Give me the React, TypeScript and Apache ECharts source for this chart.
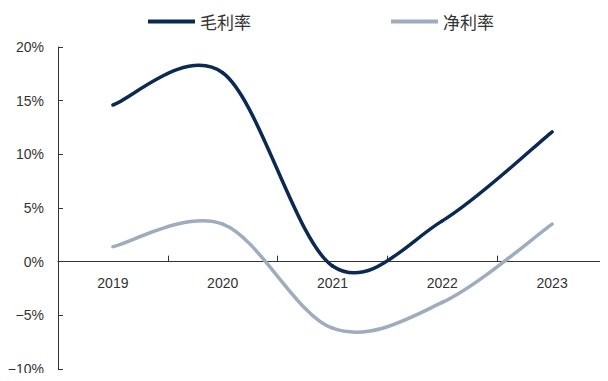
import React, { useEffect, useRef } from "react";
import * as echarts from "echarts";

const categories = ["2019", "2020", "2021", "2022", "2023"];
const grossMargin = [14.6, 17.6, -0.4, 3.8, 12.1];
const netMargin = [1.4, 3.5, -6.2, -3.8, 3.5];
const seriesNames = ["毛利率", "净利率"];
const colors = ["#0b2a52", "#9eacbd"];

function smoothSeries(name: string, values: number[], color: string) {
  const n = values.length;
  return {
    name,
    type: "custom",
    xAxisIndex: 0,
    data: values.map((v, i) => [i, v]),
    encode: { x: 0, y: 1 },
    itemStyle: { color },
    renderItem: (params: any, api: any) => {
      const i = params.dataIndex;
      if (i >= n - 1) return null;
      const p = (j: number) => {
        const k = Math.max(0, Math.min(n - 1, j));
        return api.coord([k, values[k]]);
      };
      const p0 = p(i - 1);
      const p1 = p(i);
      const p2 = p(i + 1);
      const p3 = p(i + 2);
      const t = 1 / 6;
      return {
        type: "bezierCurve",
        shape: {
          x1: p1[0],
          y1: p1[1],
          cpx1: p1[0] + (p2[0] - p0[0]) * t,
          cpy1: p1[1] + (p2[1] - p0[1]) * t,
          cpx2: p2[0] - (p3[0] - p1[0]) * t,
          cpy2: p2[1] - (p3[1] - p1[1]) * t,
          x2: p2[0],
          y2: p2[1],
        },
        style: { stroke: color, lineWidth: 3.5, fill: "none", lineCap: "round" },
      };
    },
  };
}

export default function App() {
  const ref = useRef<HTMLDivElement>(null);
  useEffect(() => {
    if (!ref.current) return;
    const chart = echarts.init(ref.current, null, { renderer: "svg" });
    const yMin = -10;
    const yMax = 20;
    const gridTop = 47;
    const gridBottom = 12;
    const plotH = 381 - gridTop - gridBottom;
    const zeroOffset = (plotH * (0 - yMin)) / (yMax - yMin);
    chart.setOption({
      animation: false,
      backgroundColor: "#ffffff",
      color: colors,
      legend: {
        top: 13,
        left: 148,
        padding: 0,
        itemGap: 140,
        itemWidth: 47,
        itemHeight: 4,
        icon: "rect",
        textStyle: { fontSize: 17, color: "#333", fontFamily: "Noto Sans CJK SC" },
        data: seriesNames,
      },
      grid: { left: 58, right: 1, top: gridTop, bottom: gridBottom, outerBoundsMode: "none", containLabel: false },
      xAxis: [
        {
          type: "category",
          data: categories,
          boundaryGap: true,
          axisLine: { show: true, onZero: true, lineStyle: { color: "#333", width: 1 } },
          axisTick: { show: true, inside: true, length: 6, lineStyle: { color: "#333" } },
          axisLabel: { show: false },
          splitLine: { show: false },
        },
        {
          type: "category",
          data: categories,
          position: "bottom",
          offset: -zeroOffset,
          boundaryGap: true,
          axisLine: { show: false, onZero: false },
          axisTick: { show: false },
          axisLabel: {
            margin: 14,
            fontSize: 14,
            color: "#333",
            fontFamily: "Liberation Sans Narrow, Arial, sans-serif",
          },
          splitLine: { show: false },
        },
      ],
      yAxis: {
        type: "value",
        min: yMin,
        max: yMax,
        interval: 5,
        axisLine: { show: true, lineStyle: { color: "#333", width: 1 } },
        axisTick: { show: true, inside: true, length: 5, lineStyle: { color: "#333" } },
        axisLabel: {
          margin: 14,
          fontSize: 14,
          color: "#333",
          fontFamily: "Liberation Sans Narrow, Arial, sans-serif",
          formatter: (v: number) => `${v}%`.replace("-", "−"),
        },
        splitLine: { show: false },
      },
      series: [
        smoothSeries(seriesNames[0], grossMargin, colors[0]),
        smoothSeries(seriesNames[1], netMargin, colors[1]),
      ],
    });
    return () => chart.dispose();
  }, []);
  return <div ref={ref} style={{ width: 608, height: 381, margin: -8 }} />;
}
